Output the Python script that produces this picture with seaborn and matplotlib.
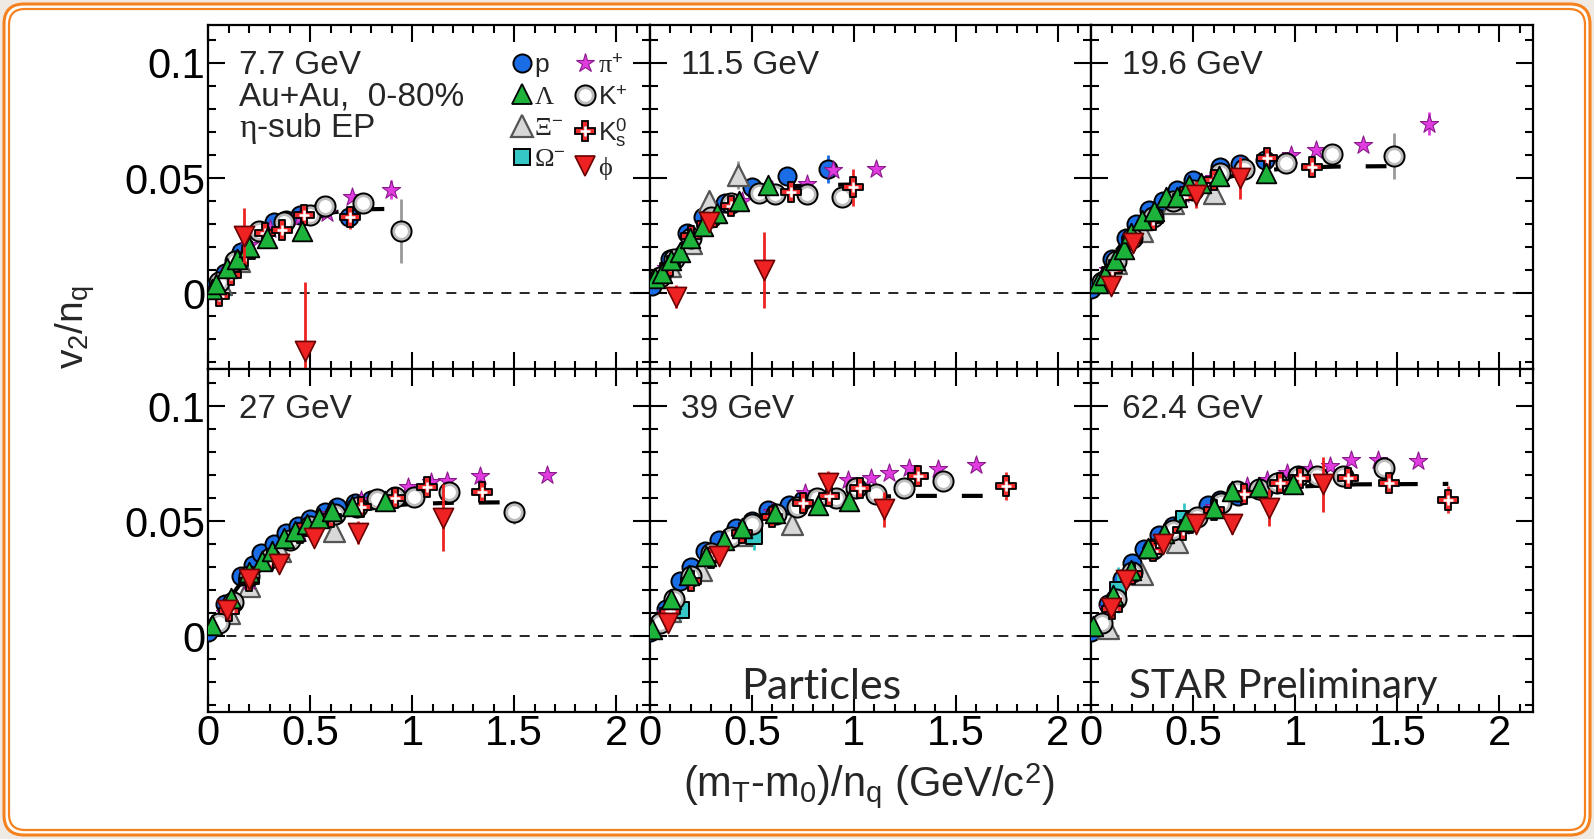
import matplotlib
matplotlib.use("Agg")
import matplotlib.pyplot as plt
import seaborn as sns
from matplotlib.lines import Line2D
from matplotlib.patches import FancyBboxPatch
from matplotlib.ticker import MultipleLocator, FixedLocator, FuncFormatter

# Panels: beam energies
ENERGY = ['7.7 GeV', '11.5 GeV', '19.6 GeV', '27 GeV', '39 GeV', '62.4 GeV']

# proton
P_X = [[0.01, 0.08, 0.16, 0.25, 0.32, 0.38, 0.45, 0.56, 0.69],
       [0.01, 0.1, 0.18, 0.26, 0.37, 0.5, 0.67, 0.874],
       [0.0, 0.1, 0.17, 0.22, 0.28, 0.35, 0.42, 0.5, 0.63, 0.73, 0.85],
       [0.0, 0.08, 0.16, 0.22, 0.26, 0.32, 0.38, 0.44, 0.5, 0.57, 0.63, 0.72, 0.8],
       [0.0, 0.08, 0.15, 0.2, 0.27, 0.34, 0.42, 0.5, 0.58, 0.68, 0.75],
       [0.0, 0.08, 0.15, 0.2, 0.26, 0.33, 0.4, 0.45, 0.57, 0.63, 0.72, 0.84]]
P_Y = [[0.002, 0.009, 0.018, 0.027, 0.031, 0.032, 0.034, 0.037, 0.033],
       [0.003, 0.015, 0.026, 0.033, 0.039, 0.046, 0.051, 0.054],
       [0.002, 0.015, 0.024, 0.03, 0.036, 0.04, 0.045, 0.049, 0.055, 0.056, 0.058],
       [0.002, 0.014, 0.026, 0.031, 0.036, 0.04, 0.045, 0.048, 0.051, 0.054, 0.056, 0.058, 0.059],
       [0.002, 0.012, 0.024, 0.03, 0.037, 0.042, 0.047, 0.05, 0.055, 0.057, 0.059],
       [0.002, 0.014, 0.025, 0.032, 0.038, 0.044, 0.048, 0.05, 0.057, 0.059, 0.061, 0.063]]
P_E = [[0, 0, 0, 0, 0, 0, 0, 0, 0.002],
       [0, 0, 0, 0, 0, 0, 0.002, 0.006],
       [0, 0, 0, 0, 0, 0, 0, 0, 0, 0, 0],
       [0, 0, 0, 0, 0, 0, 0, 0, 0, 0, 0, 0, 0],
       [0, 0, 0, 0, 0, 0, 0, 0, 0, 0, 0],
       [0, 0, 0, 0, 0, 0, 0, 0, 0, 0, 0, 0]]

# Lambda
LAM_X = [[0.02, 0.04, 0.09, 0.14, 0.2, 0.29, 0.46],
         [0.024, 0.06, 0.105, 0.15, 0.197, 0.26, 0.33, 0.437, 0.58],
         [0.032, 0.065, 0.114, 0.162, 0.195, 0.25, 0.308, 0.365, 0.42, 0.48, 0.536, 0.625, 0.857],
         [0.02, 0.11, 0.2, 0.262, 0.31, 0.373, 0.423, 0.484, 0.544, 0.605, 0.706, 0.867],
         [0.008, 0.105, 0.194, 0.275, 0.364, 0.452, 0.614, 0.824, 0.977],
         [0.008, 0.105, 0.195, 0.276, 0.357, 0.463, 0.6, 0.69, 0.82, 0.99]]
LAM_Y = [[0.002, 0.004, 0.011, 0.015, 0.02, 0.024, 0.027],
         [0.0065, 0.009, 0.0145, 0.018, 0.024, 0.029, 0.035, 0.04, 0.0468],
         [0.0043, 0.008, 0.0145, 0.019, 0.026, 0.032, 0.0355, 0.042, 0.042, 0.047, 0.048, 0.0507, 0.052],
         [0.005, 0.0167, 0.028, 0.0327, 0.037, 0.0429, 0.0458, 0.0487, 0.0516, 0.0545, 0.0567, 0.0589],
         [0.003, 0.016, 0.0268, 0.0348, 0.042, 0.047, 0.0536, 0.057, 0.0587],
         [0.0043, 0.018, 0.029, 0.0384, 0.045, 0.05, 0.0558, 0.063, 0.0648, 0.066]]
LAM_E = [[0, 0, 0, 0, 0, 0.002, 0.003],
         [0, 0, 0, 0, 0, 0, 0, 0, 0.002],
         [0, 0, 0, 0, 0, 0, 0, 0, 0, 0, 0, 0.002, 0.004],
         [0, 0, 0, 0, 0, 0, 0, 0, 0, 0, 0, 0.002],
         [0, 0, 0, 0, 0, 0, 0, 0, 0.003],
         [0, 0, 0, 0, 0, 0, 0, 0, 0, 0.002]]

# Xi-
XI_X = [[0.06, 0.15],
        [0.1, 0.2, 0.29, 0.434],
        [0.12, 0.25, 0.4, 0.6],
        [0.1, 0.2, 0.35, 0.615],
        [0.1, 0.25, 0.45, 0.698],
        [0.081, 0.25, 0.42]]
XI_Y = [[0.004, 0.014],
        [0.012, 0.022, 0.04, 0.0514],
        [0.013, 0.027, 0.039, 0.0435],
        [0.01, 0.022, 0.037, 0.0458],
        [0.011, 0.029, 0.044, 0.0486],
        [0.0036, 0.027, 0.041]]
XI_E = [[0, 0],
        [0.002, 0.003, 0.004, 0.006],
        [0, 0, 0.003, 0.004],
        [0, 0, 0, 0.002],
        [0, 0, 0, 0.002],
        [0, 0, 0]]

# Omega-
OM_X = [[], [], [], [], [0.153, 0.509], [0.13, 0.455]]
OM_Y = [[], [], [], [], [0.0116, 0.0435], [0.02, 0.051]]
OM_E = [[], [], [], [], [0.004, 0.006], [0.01, 0.007]]

# pi+
PI_X = [[0.1, 0.2, 0.3, 0.45, 0.58, 0.705, 0.897],
        [0.08, 0.2, 0.3, 0.45, 0.6, 0.77, 0.9, 1.108],
        [0.08, 0.2, 0.3, 0.45, 0.6, 0.75, 0.977, 1.1, 1.33, 1.656],
        [0.08, 0.2, 0.3, 0.45, 0.6, 0.75, 0.98, 1.09, 1.17, 1.33, 1.663],
        [0.08, 0.2, 0.3, 0.45, 0.6, 0.76, 0.97, 1.082, 1.171, 1.273, 1.414, 1.6],
        [0.08, 0.2, 0.3, 0.45, 0.6, 0.763, 0.86, 0.958, 1.071, 1.169, 1.274, 1.404, 1.6]]
PI_Y = [[0.01, 0.021, 0.028, 0.033, 0.035, 0.042, 0.045],
        [0.011, 0.025, 0.033, 0.04, 0.045, 0.0475, 0.0536, 0.054],
        [0.01, 0.024, 0.033, 0.043, 0.05, 0.054, 0.06, 0.0623, 0.0645, 0.0735],
        [0.01, 0.024, 0.035, 0.045, 0.053, 0.059, 0.0647, 0.0669, 0.0676, 0.0698, 0.070],
        [0.01, 0.026, 0.036, 0.046, 0.054, 0.0623, 0.068, 0.0686, 0.071, 0.0732, 0.0725, 0.0742],
        [0.012, 0.028, 0.038, 0.048, 0.056, 0.0652, 0.068, 0.071, 0.0725, 0.0739, 0.0764, 0.0764, 0.0761]]
PI_E = [[0, 0, 0, 0, 0, 0.002, 0.004],
        [0, 0, 0, 0, 0, 0, 0.001, 0.001],
        [0, 0, 0, 0, 0, 0, 0, 0, 0.001, 0.005],
        [0, 0, 0, 0, 0, 0, 0, 0, 0, 0.001, 0.001],
        [0, 0, 0, 0, 0, 0, 0, 0, 0, 0, 0.001, 0.001],
        [0, 0, 0, 0, 0, 0, 0, 0, 0, 0, 0, 0.001, 0.001]]

# K+
KP_X = [[0.05, 0.13, 0.25, 0.37, 0.5, 0.57, 0.756, 0.944],
        [0.05, 0.12, 0.2, 0.3, 0.4, 0.534, 0.615, 0.77, 0.94],
        [0.05, 0.12, 0.2, 0.3, 0.4, 0.5, 0.63, 0.75, 0.955, 1.18, 1.485],
        [0.05, 0.12, 0.2, 0.3, 0.4, 0.5, 0.62, 0.73, 0.827, 0.917, 1.008, 1.18, 1.5],
        [0.05, 0.12, 0.2, 0.3, 0.4, 0.5, 0.62, 0.72, 0.82, 0.913, 1.01, 1.107, 1.244, 1.438],
        [0.05, 0.12, 0.2, 0.3, 0.4, 0.52, 0.633, 0.714, 0.82, 0.909, 1.015, 1.104, 1.234, 1.437]]
KP_Y = [[0.005, 0.014, 0.027, 0.031, 0.034, 0.038, 0.039, 0.027],
        [0.007, 0.015, 0.024, 0.033, 0.039, 0.0435, 0.043, 0.043, 0.042],
        [0.005, 0.014, 0.024, 0.033, 0.04, 0.045, 0.052, 0.054, 0.0565, 0.0604, 0.0594],
        [0.006, 0.015, 0.026, 0.034, 0.042, 0.048, 0.053, 0.056, 0.0596, 0.0603, 0.0603, 0.0625, 0.0538],
        [0.006, 0.016, 0.026, 0.036, 0.043, 0.049, 0.053, 0.056, 0.0601, 0.0601, 0.0645, 0.0616, 0.0645, 0.0674],
        [0.006, 0.016, 0.028, 0.038, 0.046, 0.052, 0.058, 0.063, 0.0638, 0.0667, 0.0696, 0.0696, 0.0696, 0.0729]]
KP_E = [[0, 0, 0, 0, 0, 0, 0.002, 0.014],
        [0, 0, 0, 0, 0, 0, 0, 0, 0.003],
        [0, 0, 0, 0, 0, 0, 0, 0, 0, 0.002, 0.01],
        [0, 0, 0, 0, 0, 0, 0, 0, 0, 0, 0, 0.002, 0.005],
        [0, 0, 0, 0, 0, 0, 0, 0, 0, 0, 0, 0, 0.001, 0.002],
        [0, 0, 0, 0, 0, 0, 0, 0, 0, 0, 0, 0, 0.001, 0.003]]

# K0s
K0_X = [[0.05, 0.11, 0.18, 0.28, 0.36, 0.47, 0.695],
        [0.1, 0.2, 0.28, 0.4, 0.69, 0.995],
        [0.1, 0.2, 0.3, 0.45, 0.6, 0.86, 1.08],
        [0.1, 0.2, 0.3, 0.45, 0.6, 0.75, 0.917, 1.07, 1.34],
        [0.1, 0.2, 0.3, 0.45, 0.6, 0.75, 0.88, 1.03, 1.317, 1.745],
        [0.1, 0.2, 0.3, 0.45, 0.6, 0.75, 0.925, 1.023, 1.258, 1.461, 1.75]]
K0_Y = [[-0.001, 0.008, 0.016, 0.026, 0.0275, 0.034, 0.033],
        [0.012, 0.025, 0.03, 0.038, 0.044, 0.046],
        [0.01, 0.023, 0.032, 0.042, 0.049, 0.0587, 0.0548],
        [0.011, 0.024, 0.033, 0.045, 0.052, 0.056, 0.06, 0.065, 0.0625],
        [0.011, 0.024, 0.034, 0.045, 0.052, 0.058, 0.061, 0.0645, 0.0696, 0.0652],
        [0.012, 0.027, 0.037, 0.046, 0.055, 0.062, 0.0667, 0.0688, 0.0688, 0.0667, 0.0594]]
K0_E = [[0, 0, 0.003, 0, 0, 0.002, 0.005],
        [0, 0, 0, 0, 0.002, 0.008],
        [0, 0, 0, 0, 0, 0.002, 0.003],
        [0, 0, 0, 0, 0, 0, 0, 0.002, 0.003],
        [0, 0, 0, 0, 0, 0, 0, 0, 0.002, 0.006],
        [0, 0, 0, 0, 0, 0, 0, 0, 0.002, 0.004, 0.006]]

# phi
PHI_X = [[0.177, 0.474],
         [0.13, 0.29, 0.558],
         [0.097, 0.203, 0.511, 0.727],
         [0.09, 0.2, 0.347, 0.518, 0.736, 1.15],
         [0.089, 0.34, 0.872, 1.147],
         [0.097, 0.17, 0.349, 0.511, 0.69, 0.873, 1.136]]
PHI_Y = [[0.025, -0.025],
         [-0.0015, 0.031, 0.010],
         [0.003, 0.0217, 0.0428, 0.05],
         [0.0116, 0.0247, 0.0313, 0.0429, 0.045, 0.0516],
         [0.0058, 0.0348, 0.0667, 0.0551],
         [0.0123, 0.0246, 0.0399, 0.0486, 0.0486, 0.0558, 0.066]]
PHI_E = [[0.012, 0.03],
         [0.005, 0.004, 0.0165],
         [0.003, 0.002, 0.006, 0.009],
         [0.002, 0.002, 0.003, 0.003, 0.005, 0.0145],
         [0.002, 0.003, 0.005, 0.0075],
         [0.002, 0.003, 0.002, 0.003, 0.004, 0.008, 0.012]]

# NCQ fit curve
FIT_X = [[0.0, 0.1, 0.2, 0.3, 0.4, 0.5, 0.6, 0.7, 0.8, 0.95],
         [0.0, 0.1, 0.2, 0.3, 0.4, 0.5, 0.6, 0.7, 0.85, 1.0],
         [0.0, 0.1, 0.2, 0.3, 0.4, 0.5, 0.6, 0.7, 0.8, 1.0, 1.2, 1.5],
         [0.0, 0.1, 0.2, 0.3, 0.4, 0.5, 0.6, 0.7, 0.8, 1.0, 1.2, 1.45],
         [0.0, 0.1, 0.2, 0.3, 0.4, 0.5, 0.6, 0.7, 0.8, 1.0, 1.3, 1.7],
         [0.0, 0.1, 0.2, 0.3, 0.4, 0.5, 0.6, 0.7, 0.8, 1.0, 1.3, 1.75]]
FIT_Y = [[0.001, 0.012, 0.021, 0.027, 0.031, 0.033, 0.035, 0.036, 0.0365, 0.0367],
         [0.002, 0.015, 0.026, 0.034, 0.039, 0.043, 0.045, 0.0465, 0.047, 0.0472],
         [0.002, 0.016, 0.027, 0.035, 0.041, 0.046, 0.049, 0.051, 0.053, 0.0545, 0.055, 0.0552],
         [0.002, 0.016, 0.028, 0.036, 0.043, 0.048, 0.051, 0.054, 0.056, 0.0575, 0.058, 0.0582],
         [0.002, 0.016, 0.029, 0.038, 0.045, 0.05, 0.054, 0.057, 0.059, 0.0605, 0.061, 0.061],
         [0.002, 0.017, 0.030, 0.040, 0.048, 0.054, 0.058, 0.061, 0.063, 0.065, 0.066, 0.0662]]

sns.set_theme(style="ticks")
plt.rcParams['font.family'] = ['Liberation Sans', 'DejaVu Sans']
plt.rcParams['mathtext.fontset'] = 'custom'
plt.rcParams['mathtext.rm'] = 'Liberation Sans'
plt.rcParams['mathtext.it'] = 'Liberation Serif'
plt.rcParams['mathtext.bf'] = 'Liberation Sans:bold'

ORANGE = '#f5821f'

# species drawing styles: (key, X, Y, E, error colour, marker kwargs)
species = [
    ('p', P_X, P_Y, P_E, '#1b6de6',
     dict(marker='o', s=170, color='#1b6de6', edgecolor='black', linewidth=1.4)),
    ('xi', XI_X, XI_Y, XI_E, '#999999',
     dict(marker='^', s=230, color='#d8d8d8', edgecolor='#555555', linewidth=1.6)),
    ('om', OM_X, OM_Y, OM_E, '#35c6c6',
     dict(marker='s', s=130, color='#35c6c6', edgecolor='black', linewidth=1.4)),
    ('pi', PI_X, PI_Y, PI_E, '#e03ce0',
     dict(marker='*', s=190, color='#e03ce0', edgecolor='#8a1a8a', linewidth=0.8)),
    ('kp', KP_X, KP_Y, KP_E, '#999999',
     dict(marker='o', s=210, color='#bdbdbd', edgecolor='black', linewidth=1.4)),
    ('k0', K0_X, K0_Y, K0_E, '#ee2a2a',
     dict(marker='P', s=220, color='#ee2a2a', edgecolor='black', linewidth=1.3)),
    ('lam', LAM_X, LAM_Y, LAM_E, '#1db33a',
     dict(marker='^', s=200, color='#1db33a', edgecolor='black', linewidth=1.3)),
    ('phi', PHI_X, PHI_Y, PHI_E, '#ee2222',
     dict(marker='v', s=210, color='#ee2222', edgecolor='#6a0000', linewidth=1.2)),
]

fig, axes = plt.subplots(2, 3, figsize=(15.94, 8.39), dpi=100, sharex=True, sharey=True)
fig.subplots_adjust(left=0.1307, right=0.9617, top=0.9697, bottom=0.1518, wspace=0, hspace=0)
fig.patch.set_facecolor('#efeae4')

# rounded orange frame
fig.patches.append(FancyBboxPatch((0.04, 0.04), 15.86, 8.31, boxstyle="round,pad=0,rounding_size=0.2",
                                  transform=fig.dpi_scale_trans, facecolor='white',
                                  edgecolor=ORANGE, linewidth=2.2, zorder=-2))
fig.patches.append(FancyBboxPatch((0.09, 0.09), 15.76, 8.21, boxstyle="round,pad=0,rounding_size=0.16",
                                  transform=fig.dpi_scale_trans, facecolor='none',
                                  edgecolor=ORANGE, linewidth=1.6, zorder=-1))

fmt = FuncFormatter(lambda v, p: f'{v:g}')
for i, ax in enumerate(axes.flat):
    ax.set_xlim(0, 2.165)
    ax.set_ylim(-0.0327, 0.1163)
    ax.axhline(0, color='black', lw=1.2, ls=(0, (6, 5)), zorder=1)
    ax.plot(FIT_X[i], FIT_Y[i], color='black', lw=3, ls=(0, (5, 6)), zorder=2)
    for k, (key, X, Y, E, ecol, kws) in enumerate(species):
        x, y, e = X[i], Y[i], E[i]
        if len(x) == 0:
            continue
        z = 3 + k
        ax.errorbar(x, y, yerr=e, fmt='none', ecolor=ecol, elinewidth=2, capsize=0, zorder=z)
        sns.scatterplot(x=x, y=y, ax=ax, legend=False, zorder=z + 0.1, **kws)
        if key == 'kp':
            ax.scatter(x, y, marker='o', s=85, color='white', linewidths=0, zorder=z + 0.2)
        if key == 'k0':
            ax.scatter(x, y, marker='+', s=60, color='white', linewidths=1.8, zorder=z + 0.2)

    ax.xaxis.set_major_locator(MultipleLocator(0.5))
    ax.xaxis.set_minor_locator(MultipleLocator(0.1))
    ax.yaxis.set_major_locator(FixedLocator([0, 0.05, 0.1]))
    ax.yaxis.set_minor_locator(MultipleLocator(0.01))
    ax.xaxis.set_major_formatter(fmt)
    ax.yaxis.set_major_formatter(fmt)
    ax.tick_params(which='both', direction='in', top=True, right=True, width=1.5,
                   labelsize=30, pad=2, colors='black')
    ax.tick_params(which='major', length=12)
    ax.tick_params(which='minor', length=6)
    for sp in ax.spines.values():
        sp.set_linewidth(1.6)
        sp.set_color('black')
    ax.set_facecolor('white')
    ax.text(0.07, 0.882, ENERGY[i], transform=ax.transAxes, fontsize=24, va='center', ha='left')

ax0 = axes[0, 0]
ax0.text(0.07, 0.79, 'Au+Au,  0-80%', transform=ax0.transAxes, fontsize=24, va='center')
ax0.text(0.07, 0.70, r'$\eta$-sub EP', transform=ax0.transAxes, fontsize=24, va='center')

# legend (two columns, column-major order)
st = {s[0]: s[5] for s in species}


def handle(kws, extra=None):
    h = Line2D([], [], ls='none', marker=kws['marker'], markersize=kws['s'] ** 0.5,
               markerfacecolor=kws['color'], markeredgecolor=kws['edgecolor'],
               markeredgewidth=kws['linewidth'])
    if extra is None:
        return h
    return (h, extra)


h_kp = handle(st['kp'], Line2D([], [], ls='none', marker='o', markersize=9,
                               markerfacecolor='white', markeredgewidth=0))
h_k0 = handle(st['k0'], Line2D([], [], ls='none', marker='+', markersize=7.5,
                               markeredgecolor='white', markeredgewidth=1.8))
handles = [handle(st['p']), handle(st['lam']), handle(st['xi']), handle(st['om']),
           handle(st['pi']), h_kp, h_k0, handle(st['phi'])]
labels = ['p', 'Λ', 'Ξ$^{-}$', 'Ω$^{-}$', 'π$^{+}$', 'K$^{+}$', 'K$^{0}_{\\mathrm{s}}$', 'ϕ']
leg = ax0.legend(handles, labels, ncol=2, loc='upper right', bbox_to_anchor=(0.985, 0.965),
                 frameon=False, fontsize=19, handlelength=0.75, handletextpad=0.1,
                 columnspacing=0.35, labelspacing=0.3, borderpad=0.1)
for t in leg.get_texts():
    if t.get_text()[0] in 'ΛΞΩπϕ':
        t.set_fontfamily(['Liberation Serif', 'DejaVu Serif'])

axes[1, 1].text(0.388, 0.072, 'Particles', transform=axes[1, 1].transAxes, fontsize=31,
                family='Lato', ha='center', va='center')
axes[1, 2].text(0.435, 0.072, 'STAR Preliminary', transform=axes[1, 2].transAxes, fontsize=29,
                family='Lato', ha='center', va='center')

fig.text(76 / 1594, 1 - 327 / 839, r'v$_{2}$/n$_{\mathrm{q}}$', rotation=90, fontsize=28,
         ha='center', va='center')
fig.text(869 / 1594, 1 - 785 / 839, r'(m$_{\mathrm{T}}$-m$_{0}$)/n$_{\mathrm{q}}$ (GeV/c$^{2}$)',
         fontsize=30, ha='center', va='center')

fig.savefig('out.png', dpi=100, facecolor=fig.get_facecolor())
